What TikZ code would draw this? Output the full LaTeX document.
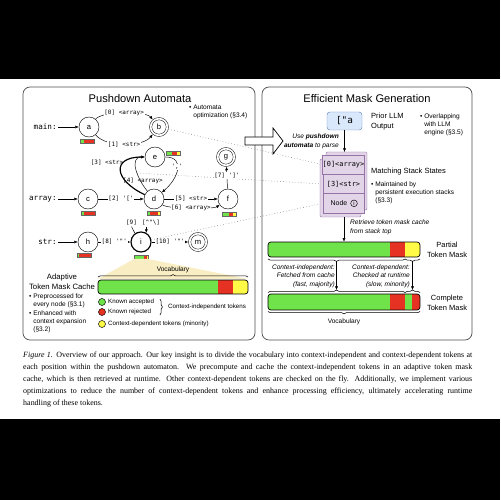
\documentclass[tikz,border=0pt]{standalone}
\usepackage{fontspec}
\setmainfont{Liberation Serif}
\setsansfont{Liberation Sans}
\setmonofont{DejaVu Sans Mono}
\usepackage{tikz}
\usetikzlibrary{arrows.meta}
\usetikzlibrary{calc}
\usetikzlibrary{backgrounds}
\usetikzlibrary{decorations.pathreplacing}
\definecolor{okgreen}{RGB}{112,226,74}
\definecolor{badred}{RGB}{230,50,35}
\definecolor{ctxyellow}{RGB}{255,250,70}
\definecolor{fanyellow}{RGB}{248,237,195}
\definecolor{stackfill}{RGB}{225,213,231}
\definecolor{stackline}{RGB}{150,115,166}
\definecolor{inpfill}{RGB}{218,232,252}
\definecolor{inpline}{RGB}{108,142,191}
\tikzset{>={Latex[length=3pt,width=2.6pt]}}
\tikzset{state/.style={shape=circle, draw=black, fill=white, minimum size=0.6cm, inner sep=0pt, font=\sffamily\fontsize{6.5}{7}\selectfont}}
\tikzset{accept/.style={state, double, double distance=1.5pt, minimum size=0.5cm, outer sep=1.2pt}}
\tikzset{lbl/.style={fill=white, inner sep=0.6pt, font=\ttfamily\fontsize{5.1}{6}\selectfont}}
\tikzset{rulename/.style={anchor=east, inner sep=1pt, font=\ttfamily\fontsize{6.5}{7}\selectfont}}
\tikzset{head/.style={inner sep=0pt, font=\sffamily\fontsize{9.5}{11}\selectfont}}
\tikzset{tag/.style={inner sep=0pt, align=center, font=\sffamily\fontsize{6.4}{8.5}\selectfont}}
\tikzset{note/.style={inner sep=0pt, anchor=west, align=left, font=\sffamily\fontsize{5.6}{6.9}\selectfont}}
\tikzset{cmt/.style={inner sep=0pt, font=\sffamily\itshape\fontsize{5.6}{7.2}\selectfont}}
\tikzset{keytext/.style={inner sep=0pt, anchor=west, font=\sffamily\fontsize{5.3}{6}\selectfont}}
\tikzset{dot/.style={shape=circle, draw=black, minimum size=0.21cm, inner sep=0pt}}
\tikzset{panel/.style={draw=black!70, line width=0.6pt, rounded corners=6pt}}
\tikzset{dotline/.style={black!50, dotted, line width=0.5pt}}
\tikzset{stackrow/.style={draw=stackline, fill=stackfill, minimum width=1.23cm, minimum height=0.58cm, inner sep=0pt, font=\ttfamily\fontsize{5.9}{7}\selectfont}}
\tikzset{barbox/.style={draw=black, line width=0.6pt, rounded corners=2.5pt, inner sep=0pt}}
\tikzset{brup/.style={decorate, decoration={brace, amplitude=2pt}, line width=0.5pt}}
\tikzset{brdown/.style={decorate, decoration={brace, mirror, amplitude=2pt}, line width=0.5pt}}
\newcommand{\squo}{\textquotesingle}
\newcommand{\dquo}{\textquotedbl}
\newcommand{\tokmask}[5]{%
  \fill[okgreen] (#1,#2) rectangle ++(#3,4);
  \fill[badred] (#1+#3,#2) rectangle ++(#4,4);
  \fill[ctxyellow] (#1+#3+#4,#2) rectangle ++(#5,4);
  \draw[black!60, line width=0.25pt] (#1,#2) rectangle ++(#3+#4+#5,4);
}

\begin{document}
\begin{tikzpicture}[x=0.03cm,y=0.03cm]
	\useasboundingbox (0,0) rectangle (500,500);
	\fill[black] (0,421) rectangle (500,500);
	\fill[black] (0,0) rectangle (500,81);
	\draw[panel] (23,160) rectangle (255,413);
	\draw[panel] (262,160) rectangle (472,413);
	\node[head] (T1) at (140,401) {Pushdown Automata};
	\node[head] (T2) at (367,401) {Efficient Mask Generation};

	\node[state] (A) at (89,373) {a};
	\node[accept] (B) at (159,373) {b};
	\node[state] (C) at (88,301) {c};
	\node[state] (D) at (154,301) {d};
	\node[state] (E) at (155,343) {e};
	\node[state] (F) at (228,301) {f};
	\node[accept] (G) at (226,343) {g};
	\node[state] (H) at (88,258) {h};
	\node[state, line width=1pt] (I) at (141,258) {i};
	\node[accept] (M) at (198,258) {m};
	\node[rulename] (Rmain) at (58,373) {main:};
	\node[rulename] (Rarr) at (58,301) {array:};
	\node[rulename] (Rstr) at (58,258) {str:};

	\path [->] (Rmain) edge (A);
	\path [->] (A) edge[out=50, in=130, looseness=0.5] node[lbl] {[0] <array>} (B);
	\path [->] (A) edge[out=-50, in=-130, looseness=0.75] node[lbl] {[1] <str>} (B);
	\path [->] (Rarr) edge (C);
	\path [->] (C) edge node[lbl] {[2] \squo[\squo} (D);
	\path [->, line width=1pt] (D) edge[out=155, in=180, looseness=2.3] (E);
	\path [->] (D) edge[out=130, in=180, looseness=1.2] (E);
	\path [->] (E) edge[out=0, in=40, looseness=1.5] (D);
	\path [->] (D) edge node[lbl] {[5] <str>} (F);
	\path [->] (D) edge[out=-35, in=-145, looseness=0.35] node[lbl] {[6] <array>} (F);
	\path [->] (F) edge node[lbl, pos=0.6] {[7] \squo]\squo} (G);
	\node[lbl, fill=none] (L3) at (107,337) {[3] <str>};
	\node[lbl, fill=none] (L4) at (143,319) {[4] <array>};
	\node[lbl] (Lc) at (177,333) {\squo,\squo};
	\coordinate (X4) at (137,327);

	\path [->] (Rstr) edge (H);
	\path [->] (H) edge node[lbl] {[8] \squo\dquo\squo} (I);
	\path [->] (I) edge node[lbl] {[10] \squo\dquo\squo} (M);
	\node[lbl, fill=none] (L9) at (131.5,277) {[9]};
	\node[lbl, fill=none] (Lx) at (151,277) {[\textasciicircum\dquo\textbackslash]};
	\draw (L9.south) -- (I.125);
	\draw [->] (Lx.south -| I.60) -- (I.60);

	\tokmask{80}{357}{3.5}{10.5}{0}
	\tokmask{166}{345}{5.7}{5.7}{2.6}
	\tokmask{81}{285}{2.5}{11}{0.5}
	\tokmask{147}{285}{3.3}{8}{2.3}
	\tokmask{222}{284}{6.5}{4.5}{3.3}
	\tokmask{77}{243}{2}{12}{0}
	\tokmask{134}{241}{10}{2.7}{1.3}
	\node[note] (N0) at (189,388.5) {\textbullet\ Automata\\\phantom{\textbullet\ }optimization (§3.4)};

	\fill[fanyellow] (134,241) -- (148,241) -- (248,221) -- (98,221) -- cycle;
	\node[tag, font=\sffamily\fontsize{5.6}{6}\selectfont] (V1) at (173,230) {Vocabulary};
	\draw[brup] (98,223) -- (248,223);
	\begin{scope}
		\clip[rounded corners=2.5pt] (98,206) rectangle (248,220);
		\fill[okgreen] (98,206) rectangle (218,220);
		\fill[badred] (218,206) rectangle (233,220);
		\fill[ctxyellow] (233,206) rectangle (248,220);
	\end{scope}
	\node[barbox, minimum width=4.5cm, minimum height=0.42cm] (VB) at (173,213) {};
	\node[dot, fill=okgreen] (K1) at (102,198) {};
	\node[dot, fill=badred] (K2) at (102,188) {};
	\node[dot, fill=ctxyellow] (K3) at (102,176) {};
	\node[keytext] (K1t) at (108,198) {Known accepted};
	\node[keytext] (K2t) at (108,188) {Known rejected};
	\node[keytext] (K3t) at (108,176) {Context-dependent tokens (minority)};
	\draw[decorate, decoration={brace, amplitude=2pt}, line width=0.5pt] (160,201) -- (160,185);
	\node[keytext] (K4t) at (168,193) {Context-independent tokens};
	\node[tag, font=\sffamily\fontsize{6.6}{8.5}\selectfont] (AC) at (62,218) {Adaptive\\Token Mask Cache};
	\node[note] (N1) at (29,199) {\textbullet\ Preprocessed for\\\phantom{\textbullet\ }every node (§3.1)};
	\node[note] (N2) at (29,178) {\textbullet\ Enhanced with\\\phantom{\textbullet\ }context expansion\\\phantom{\textbullet\ }(§3.2)};

	\draw[fill=white, line width=0.6pt] (245,355) -- (273,355) -- (273,346) -- (283,359) -- (273,372) -- (273,363) -- (245,363) -- cycle;
	\node[draw=inpline, fill=inpfill, rounded corners=2.5pt, minimum width=1.05cm, minimum height=0.54cm, inner sep=0pt, font=\ttfamily\fontsize{8}{9}\selectfont] (INP) at (344.5,379) {[\dquo a};
	\node[tag, anchor=west, align=left] (PO) at (371,378) {Prior LLM\\Output};
	\node[note] (N3) at (420,375) {\textbullet\ Overlapping\\\phantom{\textbullet\ }with LLM\\\phantom{\textbullet\ }engine (§3.5)};
	\node[cmt, align=right, anchor=east] (UP) at (339,358.5) {Use \textbf{pushdown}\\\textbf{automata} to parse};

	\filldraw[fill=stackfill, draw=stackline, rounded corners=1pt] (326,290) rectangle (367,348);
	\filldraw[fill=stackfill, draw=stackline, rounded corners=1pt] (320,283) rectangle (361,341);
	\node[stackrow] (S0) at (343.5,335.33) {[0]<array>};
	\node[stackrow] (S1) at (343.5,316) {[3]<str>};
	\node[stackrow] (S2) at (343.5,296.67) {};
	\node[inner sep=0pt, font=\sffamily\fontsize{5.9}{7}\selectfont] (S2t) at (339,296.67) {Node};
	\node[shape=circle, draw=black, minimum size=0.2cm, inner sep=0pt, font=\sffamily\fontsize{5}{5}\selectfont] (S2c) at (354,296.67) {i};
	\coordinate (STop) at (344.5,348);
	\path [->] (INP) edge (STop);
	\node[tag, anchor=west] (MS) at (371,328) {Matching Stack States};
	\node[note] (N4) at (371,307) {\textbullet\ Maintained by\\\phantom{\textbullet\ }persistent execution stacks\\\phantom{\textbullet\ }(§3.3)};

	\begin{scope}
		\clip[rounded corners=2.5pt] (268,243) rectangle (420,258);
		\fill[okgreen] (268,243) rectangle (390,258);
		\fill[badred] (390,243) rectangle (405,258);
		\fill[ctxyellow] (405,243) rectangle (420,258);
	\end{scope}
	\node[barbox, minimum width=4.56cm, minimum height=0.45cm] (PB) at (344,250.5) {};
	\coordinate (SBot) at (344,283);
	\path [->] (SBot) edge (PB);
	\node[cmt, align=left, anchor=west] (RT) at (350,272.5) {Retrieve token mask cache\\from stack top};
	\node[tag] (PBt) at (447,250) {Partial\\Token Mask};

	\draw[brdown] (268,241) -- (405,241);
	\draw[brdown] (405,241) -- (420,241);
	\draw[brup] (268,207.5) -- (405,207.5);
	\draw[brup] (405,207.5) -- (420,207.5);
	\coordinate (P1) at (336.5,238.5);
	\coordinate (P2) at (412.5,238.5);
	\coordinate (Q1) at (336.5,210);
	\coordinate (Q2) at (412.5,210);
	\path [->] (P1) edge (Q1);
	\path [->] (P2) edge (Q2);
	\node[cmt, align=right, anchor=east] (CI) at (335,224) {Context-independent:\\Fetched from cache\\(fast, majority)};
	\node[cmt, align=right, anchor=east] (CD) at (410,224) {Context-dependent:\\Checked at runtime\\(slow, minority)};

	\begin{scope}
		\clip[rounded corners=2.5pt] (268,190) rectangle (420,206);
		\fill[okgreen] (268,190) rectangle (390,206);
		\fill[badred] (390,190) rectangle (405,206);
		\fill[okgreen] (405,190) rectangle (412,206);
		\fill[badred] (412,190) rectangle (420,206);
	\end{scope}
	\node[barbox, minimum width=4.56cm, minimum height=0.48cm] (CB) at (344,198) {};
	\node[tag] (CBt) at (447,197.5) {Complete\\Token Mask};
	\draw[brdown] (268,188.5) -- (420,188.5);
	\node[tag, font=\sffamily\fontsize{5.6}{6}\selectfont] (V2) at (344,178) {Vocabulary};

	\begin{scope}[on background layer]
		\draw[dotline] (B) -- (S0.west);
		\draw[dotline] (X4) -- (S1.west);
		\draw[dotline] (I) -- (S2.west);
	\end{scope}

	\node[anchor=north west, inner sep=0pt, text width=13.47cm, align=justify, font=\rmfamily\fontsize{6.8}{10.2}\selectfont] (CAP) at (23,148) {\hyphenpenalty=10000\exhyphenpenalty=10000\tolerance=10000\textit{Figure 1.} Overview of our approach. Our key insight is to divide the vocabulary into context-independent and context-dependent tokens at\linebreak each position within the pushdown automaton. We precompute and cache the context-independent tokens in an adaptive token mask\linebreak cache, which is then retrieved at runtime. Other context-dependent tokens are checked on the fly. Additionally, we implement various\linebreak optimizations to reduce the number of context-dependent tokens and enhance processing efficiency, ultimately accelerating runtime\linebreak handling of these tokens.};
\end{tikzpicture}
\end{document}
